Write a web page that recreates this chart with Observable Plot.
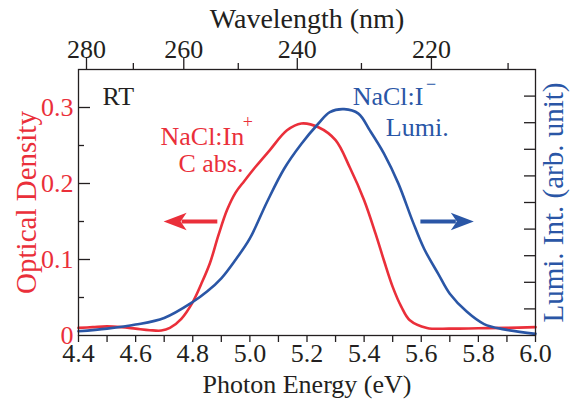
<!DOCTYPE html>
<html><head><meta charset="utf-8">
<script src="https://cdn.jsdelivr.net/npm/d3@7"></script>
<script src="https://cdn.jsdelivr.net/npm/@observablehq/plot@0.6"></script>
<style>
html,body{margin:0;padding:0;background:#fff;}
#chart{width:572px;height:401px;}
#chart svg text{font-family:"Liberation Serif","Times New Roman",Times,serif;}
</style></head><body><div id="chart"></div>
<script>
// NaCl:In+ C absorption band (optical density)
const absEnergy = [4.40,4.45,4.50,4.55,4.60,4.65,4.69,4.72,4.76,4.80,4.83,4.86,4.89,4.92,4.95,4.98,5.02,5.07,5.13,5.18,5.24,5.30,5.35,5.40,5.44,5.47,5.50,5.53,5.56,5.62,5.70,5.80,5.90,6.00];
const absOD     = [0.010,0.011,0.012,0.011,0.009,0.007,0.0065,0.010,0.022,0.044,0.068,0.095,0.132,0.165,0.188,0.203,0.222,0.244,0.270,0.279,0.274,0.257,0.221,0.178,0.134,0.098,0.064,0.038,0.020,0.010,0.009,0.0095,0.010,0.011];
// NaCl:I- luminescence (arb. unit, right axis full scale = 10)
const lumiEnergy = [4.40,4.50,4.60,4.70,4.80,4.85,4.90,4.95,5.00,5.06,5.12,5.18,5.24,5.28,5.33,5.38,5.42,5.47,5.52,5.57,5.61,5.66,5.70,5.76,5.82,5.89,6.00];
const lumiInt    = [0.16,0.26,0.41,0.66,1.26,1.65,2.15,2.85,3.65,5.02,6.27,7.20,7.97,8.40,8.51,8.34,7.71,6.83,5.71,4.29,3.26,2.31,1.57,0.89,0.43,0.23,0.06];

// axes
const energyMajorTicks = [4.4,4.6,4.8,5.0,5.2,5.4,5.6,5.8,6.0];
const energyMinorTicks = [4.5,4.7,4.9,5.1,5.3,5.5,5.7,5.9];
const wavelengthMajorTicks = [280,260,240,220];
const wavelengthMinorTicks = [270,250,230,210];
const odMajorTicks = [0,0.1,0.2,0.3];
const odMinorTicks = [0.05,0.15,0.25];
const lumiTicks = [1,2,3,4,5,6,7,8,9];
const HC = 1239.84; // eV·nm
const OD_FULL = 0.35, LUMI_FULL = 10;

// annotations
const noteText  = ["RT","NaCl:In","C abs.","NaCl:I","Lumi."];
const noteE     = [4.484,4.687,4.750,5.360,5.476];
const noteV     = [0.3145,0.2618,0.2263,0.3145,0.2737];
const noteColor = ["ink","red","red","blue","blue"];
const supText = ["+","\u2212"];
const supE    = [4.975,5.617];
const supV    = [0.281,0.330];
const supColor = ["red","blue"];
const arrowTail = [4.886,5.597];
const arrowTip  = [4.698,5.784];
const arrowV    = [0.150,0.150];
const arrowColor = ["red","blue"];

const RED = "#ea2f3a", BLUE = "#2a56a6", INK = "#231f20";
const colorOf = c => c === "red" ? RED : c === "blue" ? BLUE : INK;
const toOD = v => v * OD_FULL / LUMI_FULL;

const absData = absEnergy.map((e,i)=>({e, v: absOD[i]}));
const lumiData = lumiEnergy.map((e,i)=>({e, v: toOD(lumiInt[i])}));
const notes = noteText.map((t,i)=>({t, e: noteE[i], v: noteV[i], c: colorOf(noteColor[i])}));
const sups = supText.map((t,i)=>({t, e: supE[i], v: supV[i], c: colorOf(supColor[i])}));
const arrows = arrowTail.map((t,i)=>({t, h: arrowTip[i], v: arrowV[i], c: colorOf(arrowColor[i]), rot: arrowTip[i] < t ? 180 : 0}));

const headSymbol = {draw(ctx){ ctx.moveTo(0,0); ctx.lineTo(-23,-8.7); ctx.lineTo(-17,0); ctx.lineTo(-23,8.7); ctx.closePath(); }};

const serif = "'Liberation Serif','Times New Roman',Times,serif";

const chart = Plot.plot({
  width: 572, height: 401,
  marginLeft: 78, marginRight: 37, marginTop: 69, marginBottom: 66,
  style: {fontFamily: serif, fontSize: "26px", background: "white", color: INK, overflow: "visible"},
  x: {domain: [4.4, 6.0], label: null},
  y: {domain: [0, OD_FULL], label: null},
  marks: [
    Plot.line(absData, {x: "e", y: "v", stroke: RED, strokeWidth: 2.6, curve: "catmull-rom"}),
    Plot.line(lumiData, {x: "e", y: "v", stroke: BLUE, strokeWidth: 2.6, curve: "catmull-rom"}),
    Plot.frame({stroke: INK, strokeWidth: 1.3}),
    // bottom axis (photon energy)
    Plot.axisX(energyMajorTicks, {anchor: "bottom", tickSize: 7, tickPadding: 1.5, strokeWidth: 1.3, tickFormat: d => d.toFixed(1), label: null, fontSize: 26}),
    Plot.axisX(energyMinorTicks, {anchor: "bottom", tickSize: 7, strokeWidth: 1.3, fill: "none", label: null}),
    // top axis (wavelength)
    Plot.axisX(wavelengthMajorTicks.map(w => HC / w), {anchor: "top", tickSize: 12, tickPadding: 0, strokeWidth: 1.3, tickFormat: d => String(Math.round(HC / d)), label: null, fontSize: 26}),
    Plot.axisX(wavelengthMinorTicks.map(w => HC / w), {anchor: "top", tickSize: 7, strokeWidth: 1.3, fill: "none", label: null}),
    // left axis (optical density)
    Plot.axisY(odMajorTicks, {anchor: "left", tickSize: 0, tickPadding: 5, fill: RED, tickFormat: d => d === 0 ? "0" : d.toFixed(1), label: null, fontSize: 26}),
    Plot.axisY(odMajorTicks.slice(1), {anchor: "left", tickSize: 12, dx: 12, strokeWidth: 1.3, fill: "none", label: null}),
    Plot.axisY(odMinorTicks, {anchor: "left", tickSize: 6, dx: 6, strokeWidth: 1.3, fill: "none", label: null}),
    // right axis (luminescence, unlabeled ticks)
    Plot.axisY(lumiTicks.map(toOD), {anchor: "right", tickSize: 12, dx: -12, strokeWidth: 1.3, fill: "none", label: null}),
    // axis titles
    Plot.text(["Photon Energy (eV)"], {text: d => d, frameAnchor: "bottom", dy: 49.4, textAnchor: "middle", lineAnchor: "middle", fill: INK, fontSize: 26}),
    Plot.text(["Wavelength (nm)"], {text: d => d, frameAnchor: "top", dy: -50.6, textAnchor: "middle", lineAnchor: "middle", fill: INK, fontSize: 28}),
    Plot.text(["Optical Density"], {text: d => d, frameAnchor: "left", dx: -52, rotate: -90, textAnchor: "middle", lineAnchor: "middle", fill: RED, fontSize: 29}),
    Plot.text(["Lumi. Int. (arb. unit)"], {text: d => d, frameAnchor: "right", dx: 18, rotate: -90, textAnchor: "middle", lineAnchor: "middle", fill: BLUE, fontSize: 29}),
    // annotations
    Plot.text(notes, {x: "e", y: "v", text: "t", fill: d => d.c, textAnchor: "start", lineAnchor: "middle", fontSize: 26}),
    Plot.text(sups, {x: "e", y: "v", text: "t", fill: d => d.c, textAnchor: "start", lineAnchor: "middle", fontSize: 18}),
    Plot.arrow(arrows, {x1: "t", x2: "h", y1: "v", y2: "v", stroke: d => d.c, strokeWidth: 4, headLength: 0, insetEnd: 18, strokeLinecap: "butt"}),
    Plot.dot(arrows, {x: "h", y: "v", symbol: headSymbol, fill: d => d.c, stroke: "none", rotate: "rot", r: 5})
  ]
});
document.getElementById("chart").appendChild(chart);
</script>
</body></html>
